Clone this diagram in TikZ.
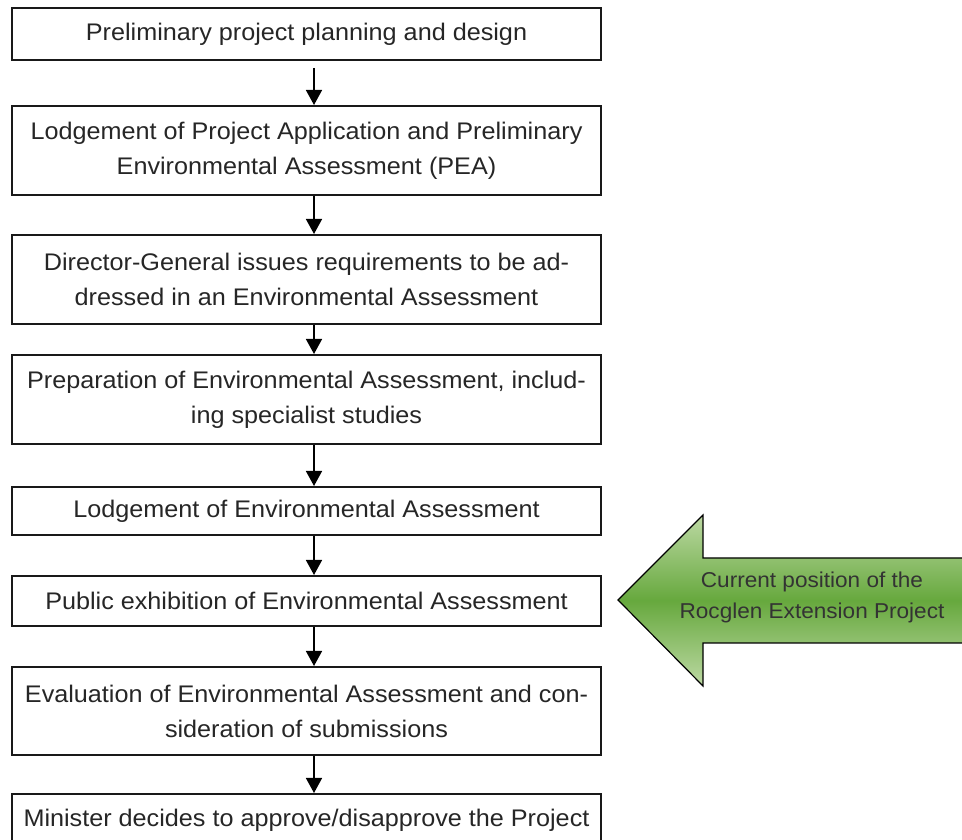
\documentclass[tikz,border=0pt]{standalone}
\usepackage{fontspec}
\setmainfont[FakeStretch=1.05]{Liberation Sans}
\usetikzlibrary{arrows.meta,positioning}
\definecolor{arrowgreen}{rgb}{0.40,0.66,0.24}
\definecolor{palegreen}{rgb}{0.74,0.85,0.64}

\begin{document}
\begin{tikzpicture}[x=1pt,y=1pt,
  stage/.style={draw=black!90, line width=2pt, minimum width=589pt, align=center,
    inner sep=0pt, text=black!85, font=\fontsize{24}{35}\selectfont},
  flow/.style={-{Triangle[length=15pt,width=16pt]}, line width=1.5pt}]
\useasboundingbox (0,0) rectangle (962,840);
% steps of the assessment
\node[stage, minimum height=52pt] (plan) at (306.5,806) {Preliminary project planning and design};
\node[stage, minimum height=89pt] (lodge) at (306.5,689.5) {Lodgement of Project Application and Preliminary\\Environmental Assessment (PEA)};
\node[stage, minimum height=89pt] (dgr) at (306.5,560.5) {Director-General issues requirements to be ad-\\dressed in an Environmental Assessment};
\node[stage, minimum height=89pt] (prep) at (306.5,440.5) {Preparation of Environmental Assessment, includ-\\ing specialist studies};
\node[stage, minimum height=48pt] (lodgeea) at (306.5,329) {Lodgement of Environmental Assessment};
\node[stage, minimum height=50pt] (exhibit) at (306.5,239) {Public exhibition of Environmental Assessment};
\node[stage, minimum height=88pt] (eval) at (306.5,129) {Evaluation of Environmental Assessment and con-\\sideration of submissions};
\node[stage, minimum height=52pt] (decide) at (306.5,20) {Minister decides to approve/disapprove the Project};
\draw[flow, shorten <=7pt] ([xshift=7.5pt]plan.south) -- ([xshift=7.5pt]lodge.north);
\draw[flow] ([xshift=7.5pt]lodge.south) -- ([xshift=7.5pt]dgr.north);
\draw[flow] ([xshift=7.5pt]dgr.south) -- ([xshift=7.5pt]prep.north);
\draw[flow] ([xshift=7.5pt]prep.south) -- ([xshift=7.5pt]lodgeea.north);
\draw[flow] ([xshift=7.5pt]lodgeea.south) -- ([xshift=7.5pt]exhibit.north);
\draw[flow] ([xshift=7.5pt]exhibit.south) -- ([xshift=7.5pt]eval.north);
\draw[flow] ([xshift=7.5pt]eval.south) -- ([xshift=7.5pt]decide.north);
% big green pointer
\shade[top color=palegreen, bottom color=palegreen, middle color=arrowgreen, draw=black, line width=1.2pt]
  (618,240) -- (703,325) -- (703,282) -- (975,282) -- (975,197) -- (703,197) -- (703,154) -- cycle;
\node[align=center, text=black!80, font=\fontsize{21.5}{31}\selectfont] (current) at (812,243) {Current position of the\\Rocglen Extension Project};
\end{tikzpicture}
\end{document}
